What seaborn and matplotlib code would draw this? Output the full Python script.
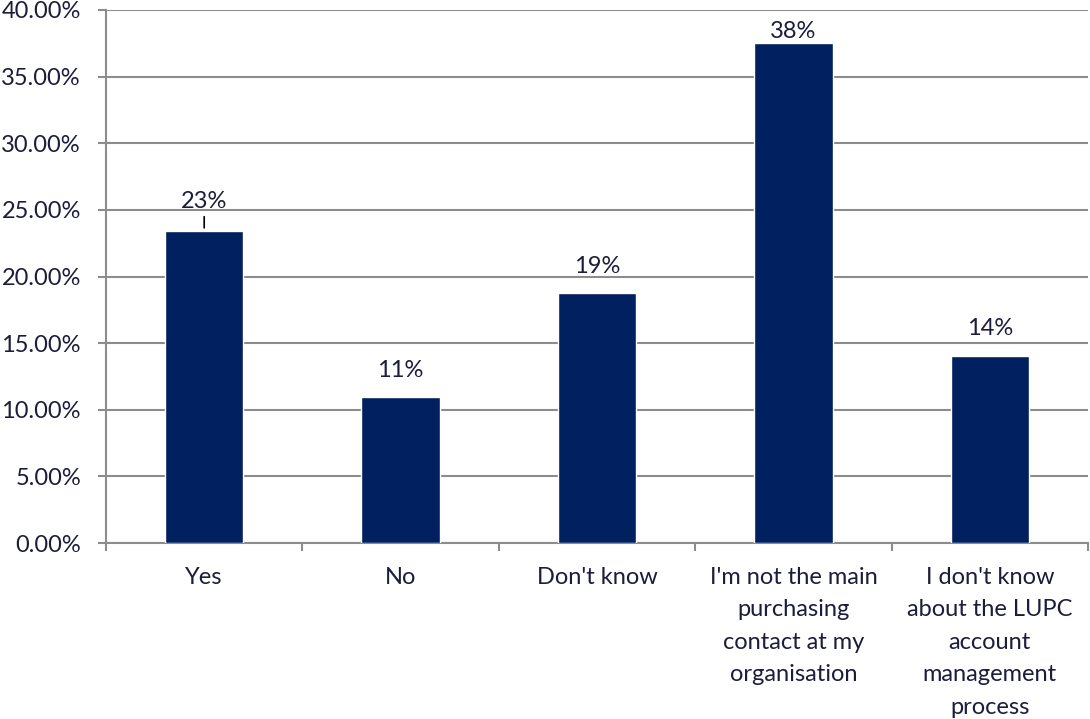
import matplotlib
matplotlib.use("Agg")
import matplotlib.pyplot as plt
import seaborn as sns
import pandas as pd
from matplotlib.ticker import FuncFormatter, FixedLocator

categories = [
    "Yes",
    "No",
    "Don't know",
    "I'm not the main\npurchasing\ncontact at my\norganisation",
    "I don't know\nabout the LUPC\naccount\nmanagement\nprocess",
]
shares = [23.44, 10.94, 18.75, 37.50, 14.06]
y_ticks = [0, 5, 10, 15, 20, 25, 30, 35, 40]

BAR = "#002060"
TEXT = "#1c1c3c"
GRID = "#8c8c8c"
FS = 17

sns.set_theme(style="white")
plt.rcParams["font.family"] = ["Lato", "DejaVu Sans"]

df = pd.DataFrame({"category": categories, "share": shares})

fig = plt.figure(figsize=(10.90, 7.19), dpi=100)
ax = fig.add_axes([106 / 1090, 176 / 719, 982 / 1090, 533 / 719])

sns.barplot(data=df, x="category", y="share", color=BAR, width=0.4,
            saturation=1, ax=ax, zorder=3)

ax.set_ylim(0, 40)
ax.set_xlim(-0.5, len(categories) - 0.5)
ax.yaxis.set_major_locator(FixedLocator(y_ticks))
ax.yaxis.set_major_formatter(FuncFormatter(lambda v, _: f"{v:.2f}%"))
ax.grid(axis="y", color=GRID, linewidth=1.5, zorder=0)
ax.set_axisbelow(True)

for side in ("top", "right"):
    ax.spines[side].set_visible(False)
for side in ("left", "bottom"):
    ax.spines[side].set_color(GRID)
    ax.spines[side].set_linewidth(1.5)

ax.tick_params(axis="y", which="major", length=6, width=1.5, color=GRID,
               pad=12, labelsize=FS, labelcolor=TEXT, left=True)
ax.tick_params(axis="x", which="major", length=0, pad=17,
               labelsize=FS, labelcolor=TEXT)
ax.set_xticks(range(len(categories)))
ax.set_xticklabels(categories, linespacing=1.68, va="top")
ax.set_xticks([i - 0.5 for i in range(len(categories) + 1)], minor=True)
ax.tick_params(axis="x", which="minor", length=6, width=1.5, color=GRID,
               bottom=True, direction="out")
ax.set_xlabel("")
ax.set_ylabel("")

# value labels above each bar; the first gets a short leader line
offsets = [21, 19.5, 19, 8.5, 19.5]
for i, (bar, val) in enumerate(zip(ax.patches, shares)):
    cx = bar.get_x() + bar.get_width() / 2
    h = bar.get_height()
    kw = {}
    if i == 0:
        kw["arrowprops"] = dict(arrowstyle="-", color="black", lw=1.2,
                                shrinkA=1, shrinkB=2)
    ax.annotate(f"{val:.0f}%", xy=(cx, h), xytext=(0, offsets[i]),
                textcoords="offset points", ha="center", va="center",
                fontsize=FS, color=TEXT, zorder=5, **kw)

fig.savefig("out.png", dpi=100)
